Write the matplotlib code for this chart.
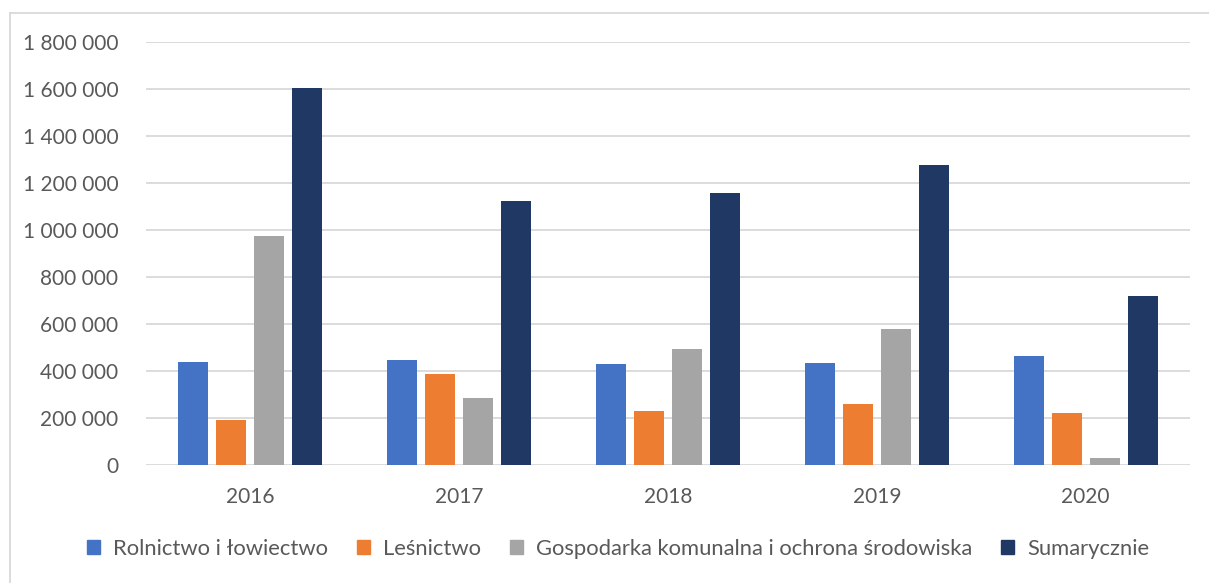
import matplotlib
matplotlib.use("Agg")
import matplotlib.pyplot as plt
from matplotlib.lines import Line2D
import numpy as np

years = ["2016", "2017", "2018", "2019", "2020"]
series_names = ["Rolnictwo i łowiectwo", "Leśnictwo",
                "Gospodarka komunalna i ochrona środowiska", "Sumarycznie"]
rolnictwo = [438000, 447000, 430000, 435000, 464000]
lesnictwo = [191000, 387000, 230000, 260000, 221000]
gospodarka = [974000, 285000, 494000, 579000, 30000]
sumarycznie = [1606000, 1123000, 1157000, 1277000, 720000]
colors = ["#4472C4", "#ED7D31", "#A5A5A5", "#203864"]
yticks = [0, 200000, 400000, 600000, 800000, 1000000, 1200000, 1400000, 1600000, 1800000]

plt.rcParams['font.family'] = ['Lato', 'DejaVu Sans']
txt = "#595959"

W, H = 1209, 583
fig = plt.figure(figsize=(W / 100, H / 100), dpi=100)
ax = fig.add_axes([146 / W, 1 - 465 / H, (1190 - 146) / W, (465 - 42) / H])

data = [rolnictwo, lesnictwo, gospodarka, sumarycznie]
x = np.arange(len(years))
pitch = 0.182
bw = 0.143
for i, (vals, c, name) in enumerate(zip(data, colors, series_names)):
    ax.bar(x + (i - 1.5) * pitch, vals, width=bw, color=c, label=name, zorder=3)

ax.set_xlim(-0.5, len(years) - 0.5)
ax.set_ylim(0, 1800000)
ax.set_yticks(yticks)
ax.set_yticklabels([f"{v:,}".replace(",", " ") for v in yticks])
ax.set_xticks(x)
ax.set_xticklabels(years)
ax.tick_params(axis='both', length=0, labelsize=15, colors=txt)
ax.tick_params(axis='y', pad=20)
ax.tick_params(axis='x', pad=16)
ax.grid(axis='y', color="#D9D9D9", linewidth=1.3, zorder=0)
for s in ax.spines.values():
    s.set_visible(False)

handles = [plt.Rectangle((0, 0), 1, 1, color=c) for c in colors]
leg = fig.legend(handles, series_names, loc='center', bbox_to_anchor=(618 / W, 1 - 549 / H),
                 ncol=4, frameon=False, fontsize=15.8, handlelength=0.6, handleheight=0.6,
                 handletextpad=0.6, columnspacing=1.3, labelcolor=txt)

# chart frame
fig.add_artist(Line2D([10 / W, 1.0], [1 - 13 / H, 1 - 13 / H], color="#D9D9D9", lw=1.3,
                      transform=fig.transFigure))
fig.add_artist(Line2D([10 / W, 10 / W], [0, 1 - 13 / H], color="#D9D9D9", lw=1.3,
                      transform=fig.transFigure))

fig.savefig("out.png", dpi=100, facecolor="white")
